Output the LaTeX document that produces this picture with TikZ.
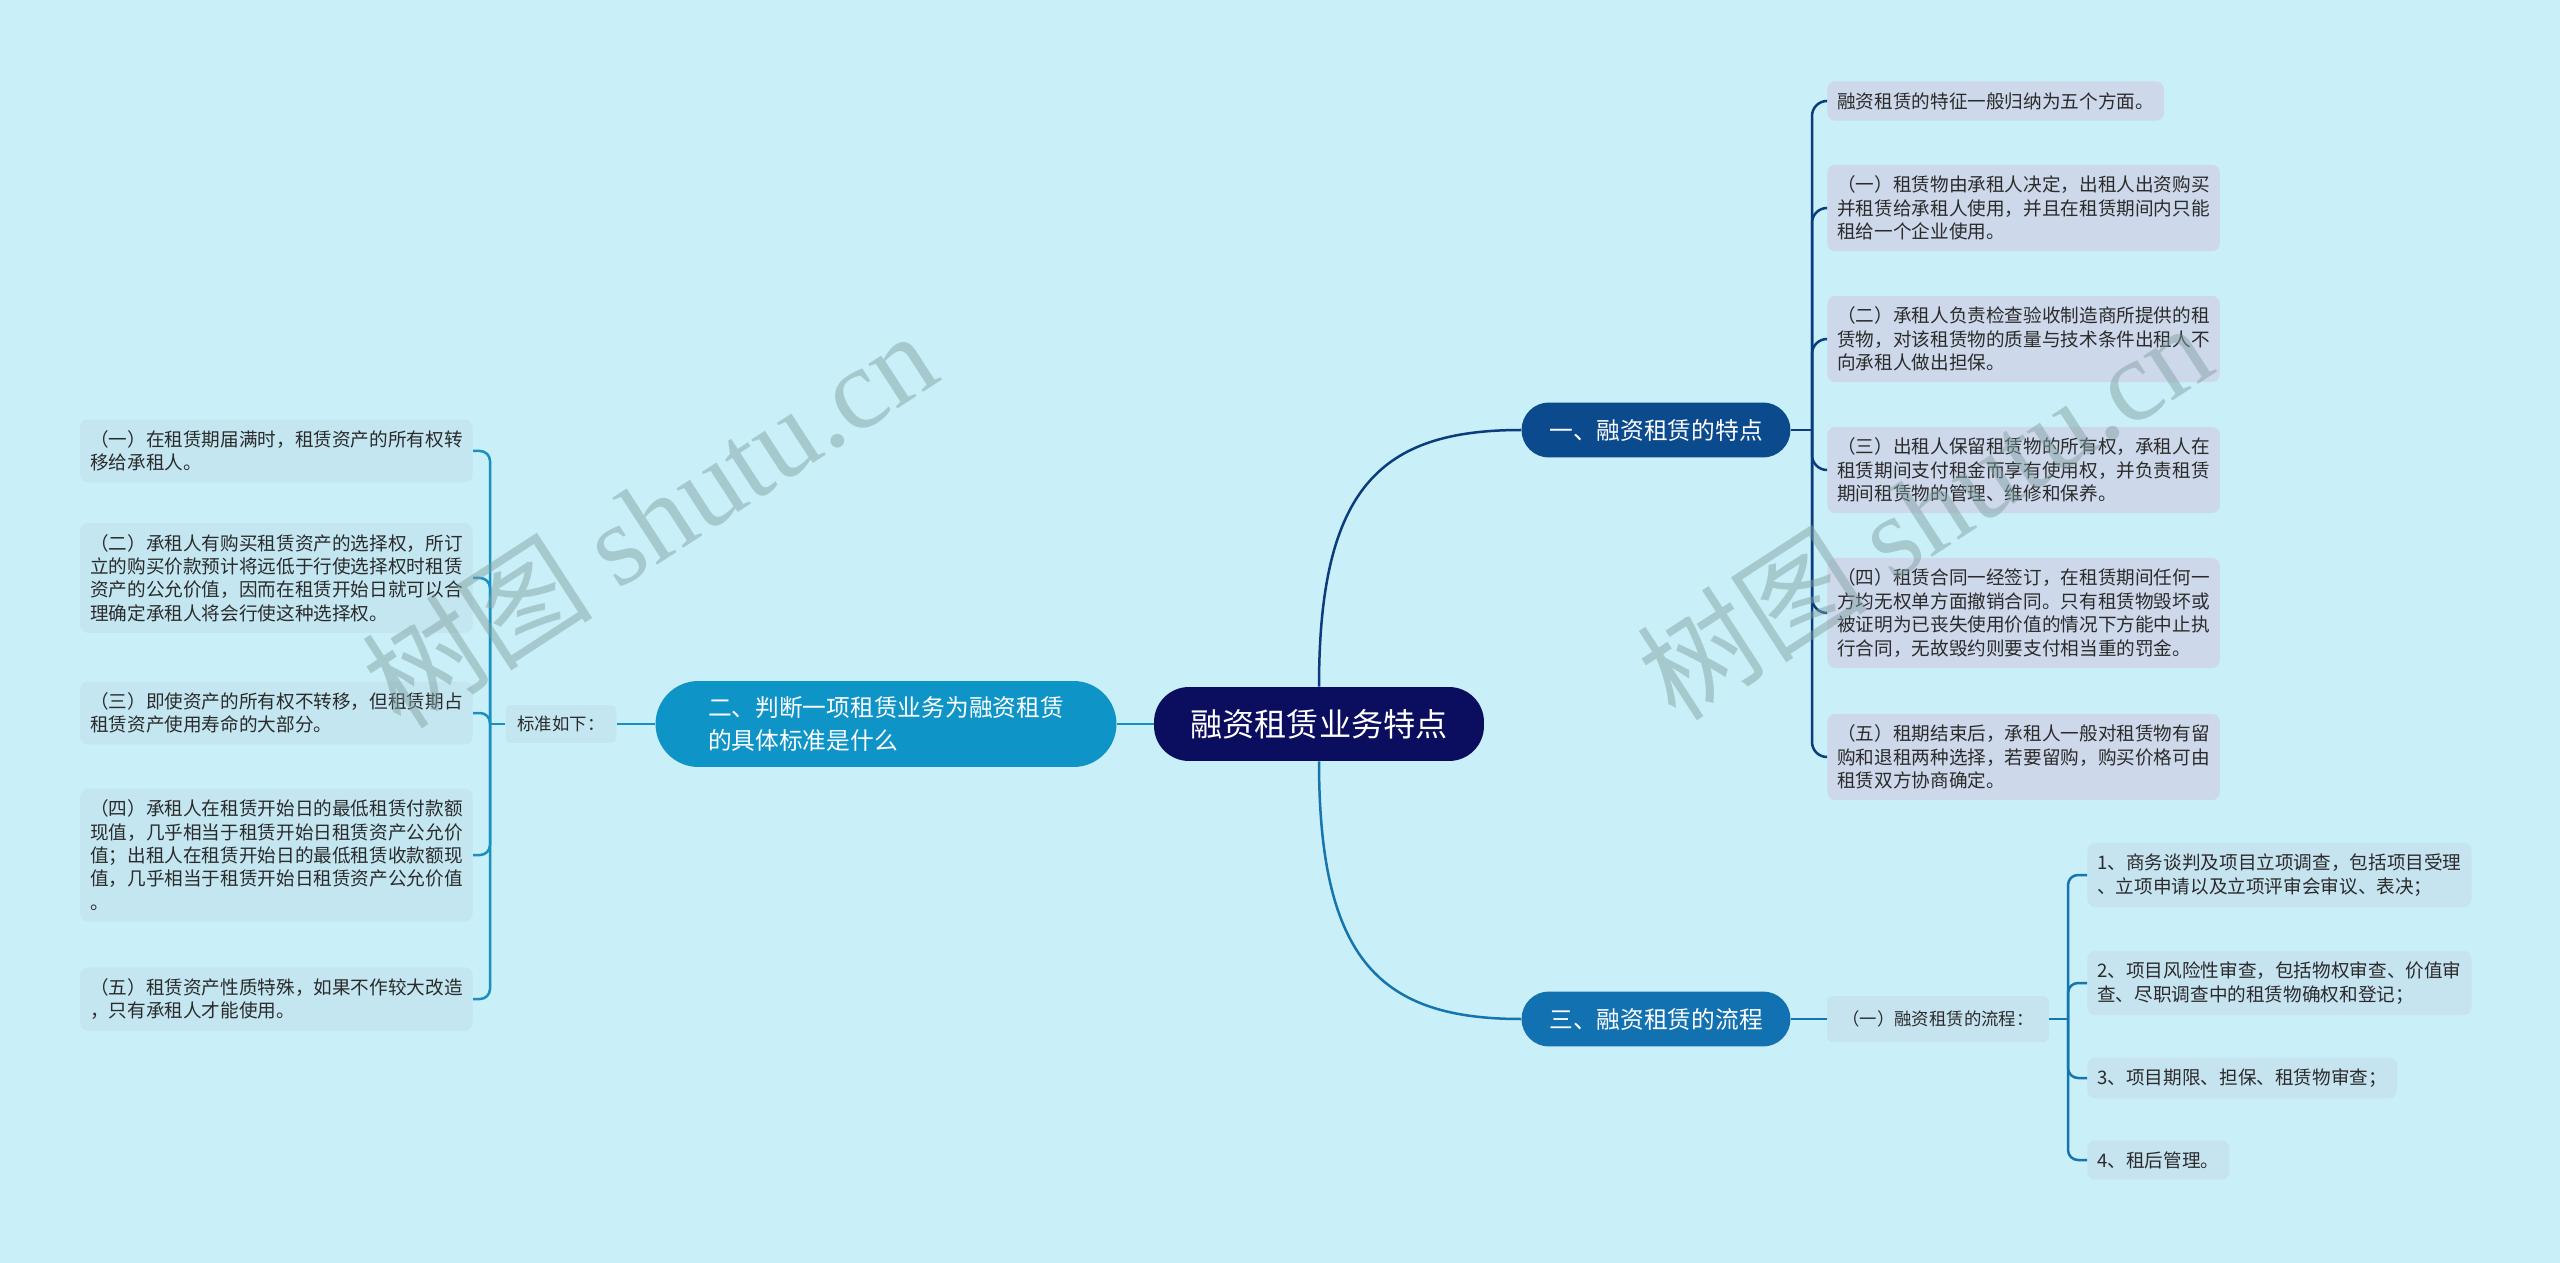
\documentclass[tikz,border=0pt]{standalone}
\usepackage{fontspec}
\setmainfont{Noto Sans CJK SC}
\newfontfamily\wmserif{Liberation Serif}
\usepackage{xcolor}
\usepackage{tikz}
\usetikzlibrary{shapes}

\definecolor{bgcol}{HTML}{C9EFF8}
\definecolor{rootcol}{HTML}{0B0D5E}
\definecolor{onecol}{HTML}{0C4A8E}
\definecolor{twocol}{HTML}{0E94C6}
\definecolor{threecol}{HTML}{1271B0}
\definecolor{oneline}{HTML}{0B3C7E}
\definecolor{twoline}{HTML}{1A90BE}
\definecolor{threeline}{HTML}{1674AE}
\definecolor{rleaf}{HTML}{CDD8EA}
\definecolor{lleaf}{HTML}{C3E6F1}
\definecolor{pleaf}{HTML}{C6E3F0}
\definecolor{leaftext}{HTML}{2B2B2B}
\definecolor{wmcol}{HTML}{80A0A0}

\tikzset{
    rootbox/.style={fill=rootcol, text=white, rounded corners=0.7cm,
        minimum width=6.6cm, minimum height=1.48cm, font=\fontsize{18.3}{22}\selectfont},
    mainbox/.style={text=white, rounded corners=0.55cm, minimum width=5.38cm,
        minimum height=1.1cm, font=\fontsize{13.5}{18.7}\selectfont},
    leafbox/.style={rounded corners=0.16cm, inner xsep=0.2cm, inner ysep=0.22cm,
        align=left, text=leaftext, font=\fontsize{10.6}{13.3}\selectfont},
    smallbox/.style={rounded corners=0.12cm, inner xsep=0.2cm, text=leaftext,
        font=\fontsize{9.9}{12}\selectfont},
    conn/.style={line width=0.05cm},
    watermark/.style={rotate=33, text=wmcol, opacity=0.47, font=\fontsize{66}{70}\selectfont}
}

\begin{document}
\begin{tikzpicture}[x=0.02cm, y=-0.02cm]
        \fill[bgcol] (0, 0) rectangle (2560, 1263);

        \node[rootbox] (root) at (1319, 724) {融资租赁业务特点};
        \node[mainbox, fill=onecol] (one) at (1656, 430) {一、融资租赁的特点};
        \node[mainbox, fill=threecol] (three) at (1656, 1019) {三、融资租赁的流程};
        \node[mainbox, fill=twocol, rounded corners=0.86cm, minimum width=9.22cm,
            minimum height=1.72cm, align=left] (two) at (886, 724)
            {二、判断一项租赁业务为融资租赁\\的具体标准是什么};

        % right side
        \node[leafbox, fill=rleaf, anchor=west] (r0) at (1827, 101)
            {融资租赁的特征一般归纳为五个方面。};
        \node[leafbox, fill=rleaf, anchor=west] (r1) at (1827, 208)
            {（一）租赁物由承租人决定，出租人出资购买\\并租赁给承租人使用，并且在租赁期间内只能\\租给一个企业使用。};
        \node[leafbox, fill=rleaf, anchor=west] (r2) at (1827, 339)
            {（二）承租人负责检查验收制造商所提供的租\\赁物，对该租赁物的质量与技术条件出租人不\\向承租人做出担保。};
        \node[leafbox, fill=rleaf, anchor=west] (r3) at (1827, 470)
            {（三）出租人保留租赁物的所有权，承租人在\\租赁期间支付租金而享有使用权，并负责租赁\\期间租赁物的管理、维修和保养。};
        \node[leafbox, fill=rleaf, anchor=west] (r4) at (1827, 613)
            {（四）租赁合同一经签订，在租赁期间任何一\\方均无权单方面撤销合同。只有租赁物毁坏或\\被证明为已丧失使用价值的情况下方能中止执\\行合同，无故毁约则要支付相当重的罚金。};
        \node[leafbox, fill=rleaf, anchor=west] (r5) at (1827, 757)
            {（五）租期结束后，承租人一般对租赁物有留\\购和退租两种选择，若要留购，购买价格可由\\租赁双方协商确定。};

        \node[smallbox, fill=pleaf, minimum width=4.44cm, minimum height=0.92cm] (flow) at (1938, 1019)
            {（一）融资租赁的流程：};
        \node[leafbox, fill=pleaf, anchor=west] (p1) at (2087, 875)
            {1、商务谈判及项目立项调查，包括项目受理\\、立项申请以及立项评审会审议、表决；};
        \node[leafbox, fill=pleaf, anchor=west] (p2) at (2087, 983)
            {2、项目风险性审查，包括物权审查、价值审\\查、尽职调查中的租赁物确权和登记；};
        \node[leafbox, fill=pleaf, anchor=west] (p3) at (2087, 1078)
            {3、项目期限、担保、租赁物审查；};
        \node[leafbox, fill=pleaf, anchor=west] (p4) at (2087, 1160)
            {4、租后管理。};

        % left side
        \node[smallbox, fill=lleaf, minimum width=2.22cm, minimum height=0.76cm] (std) at (561, 724)
            {标准如下：};
        \node[leafbox, fill=lleaf, anchor=east] (l1) at (473, 451)
            {（一）在租赁期届满时，租赁资产的所有权转\\移给承租人。};
        \node[leafbox, fill=lleaf, anchor=east] (l2) at (473, 578)
            {（二）承租人有购买租赁资产的选择权，所订\\立的购买价款预计将远低于行使选择权时租赁\\资产的公允价值，因而在租赁开始日就可以合\\理确定承租人将会行使这种选择权。};
        \node[leafbox, fill=lleaf, anchor=east] (l3) at (473, 713)
            {（三）即使资产的所有权不转移，但租赁期占\\租赁资产使用寿命的大部分。};
        \node[leafbox, fill=lleaf, anchor=east] (l4) at (473, 855)
            {（四）承租人在租赁开始日的最低租赁付款额\\现值，几乎相当于租赁开始日租赁资产公允价\\值；出租人在租赁开始日的最低租赁收款额现\\值，几乎相当于租赁开始日租赁资产公允价值\\。};
        \node[leafbox, fill=lleaf, anchor=east] (l5) at (473, 999)
            {（五）租赁资产性质特殊，如果不作较大改造\\，只有承租人才能使用。};

        \coordinate (onefork) at (1812, 430);
        \coordinate (flowfork) at (2068, 1019);
        \coordinate (stdfork) at (490, 724);

        \draw[conn, oneline] (root.north) .. controls +(0, -200) and +(-140, 0) .. (one.west);
        \draw[conn, threeline] (root.south) .. controls +(0, 200) and +(-140, 0) .. (three.west);
        \draw[conn, twoline] (root.west) -- (two.east);
        \draw[conn, twoline] (two.west) -- (std.east);

        \draw[conn, oneline] (one.east) -- (onefork);
        \foreach \leaf in {r0, r1, r2, r3, r4, r5}
            \draw[conn, oneline, rounded corners=0.3cm] (onefork) |- (\leaf.west);

        \draw[conn, threeline] (three.east) -- (flow.west);
        \draw[conn, threeline] (flow.east) -- (flowfork);
        \foreach \leaf in {p1, p2, p3, p4}
            \draw[conn, threeline, rounded corners=0.2cm] (flowfork) |- (\leaf.west);

        \draw[conn, twoline] (std.west) -- (stdfork);
        \foreach \leaf in {l1, l2, l3, l4, l5}
            \draw[conn, twoline, rounded corners=0.2cm] (stdfork) |- (\leaf.east);

        \node[watermark] (wmleft) at (649, 518) {树图 {\wmserif shutu.cn}};
        \node[watermark] (wmright) at (1924, 510) {树图 {\wmserif shutu.cn}};
\end{tikzpicture}
\end{document}
